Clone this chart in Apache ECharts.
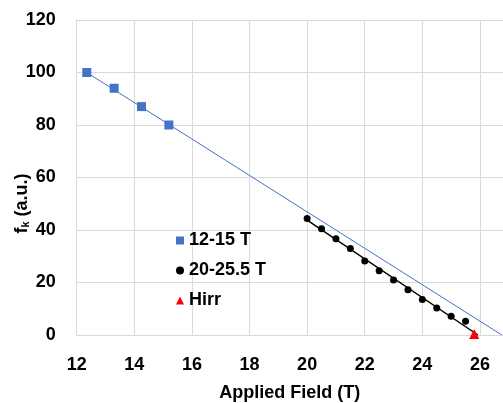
<!DOCTYPE html>
<html>
<head>
<meta charset="utf-8">
<title>fk vs applied field</title>
<script src="https://cdn.jsdelivr.net/npm/echarts@6/dist/echarts.min.js"></script>
<style>
  html, body { margin: 0; padding: 0; background: #fff; }
  #chart { width: 503px; height: 403px; }
</style>
</head>
<body>
<div id="chart"></div>
<script type="text/javascript">
// data
var blueX = [12.35, 13.3, 14.25, 15.2];
var blueY = [100, 94, 87, 80];
var blackX = [20, 20.5, 21, 21.5, 22, 22.5, 23, 23.5, 24, 24.5, 25, 25.5];
var blackY = [44.4, 40.5, 36.7, 33.0, 28.2, 24.5, 21.0, 17.2, 13.5, 10.3, 7.1, 5.2];
var hirrX = [25.8];
var hirrY = [0];
// trend lines (endpoints as seen on the plot)
var blueFitX = [12.35, 26.76];
var blueFitY = [100, 0];
var blackFitX = [20, 25.93];
var blackFitY = [43.8, 0];

var seriesNames = ['12-15 T', '20-25.5 T', 'Hirr'];

function pairs(xs, ys) {
  return xs.map(function (x, i) { return [x, ys[i]]; });
}

var font = "'Liberation Sans', Arial, sans-serif";
var gridColor = '#d9d9d9';

var chart = echarts.init(document.getElementById('chart'));
var option = {
  animation: false,
  grid: { left: 76.7, top: 20, right: 0, bottom: 68, outerBoundsMode: 'none', containLabel: false },
  legend: {
    data: [
      { name: seriesNames[0], icon: 'rect' },
      { name: seriesNames[1], icon: 'circle' },
      { name: seriesNames[2], icon: 'triangle' }
    ],
    orient: 'vertical',
    left: 171,
    top: 226,
    itemWidth: 8,
    itemHeight: 8,
    itemGap: 11,
    selectedMode: false,
    textStyle: { fontFamily: font, fontWeight: 'bold', fontSize: 18, color: '#000', lineHeight: 19 }
  },
  xAxis: {
    type: 'value',
    min: 12,
    max: 26.8,
    interval: 2,
    name: 'Applied Field (T)',
    nameLocation: 'middle',
    nameGap: 49,
    nameMoveOverlap: false,
    nameTextStyle: { fontFamily: font, fontWeight: 'bold', fontSize: 18, color: '#000' },
    axisLine: { show: true, lineStyle: { color: gridColor, width: 1 } },
    axisTick: { show: false },
    axisLabel: { showMaxLabel: false, margin: 21, fontFamily: font, fontWeight: 'bold', fontSize: 18, color: '#000' },
    splitLine: { show: true, lineStyle: { color: gridColor, width: 1 } }
  },
  yAxis: {
    type: 'value',
    min: 0,
    max: 120,
    interval: 20,
    name: 'f{k|k} (a.u.)',
    nameLocation: 'middle',
    nameRotate: 90,
    nameGap: 45,
    nameMoveOverlap: false,
    nameTextStyle: {
      fontFamily: font, fontWeight: 'bold', fontSize: 18, color: '#000',
      padding: [0, 52, 0, 0],
      rich: { k: { fontFamily: font, fontWeight: 'bold', fontSize: 11, color: '#000', padding: [8, 0, 0, 0] } }
    },
    axisLine: { show: true, lineStyle: { color: gridColor, width: 1 } },
    axisTick: { show: false },
    axisLabel: { margin: 21, fontFamily: font, fontWeight: 'bold', fontSize: 18, color: '#000' },
    splitLine: { show: true, lineStyle: { color: gridColor, width: 1 } }
  },
  series: [
    {
      name: 'fit1',
      type: 'line',
      data: pairs(blueFitX, blueFitY),
      showSymbol: false,
      symbol: 'none',
      lineStyle: { color: '#4472C4', width: 1 },
      z: 1
    },
    {
      name: 'fit2',
      type: 'line',
      data: pairs(blackFitX, blackFitY),
      showSymbol: false,
      symbol: 'none',
      lineStyle: { color: '#000', width: 1.5 },
      z: 2
    },
    {
      name: seriesNames[0],
      type: 'scatter',
      data: pairs(blueX, blueY),
      symbol: 'rect',
      symbolSize: 9,
      itemStyle: { color: '#4472C4', opacity: 1 },
      z: 3
    },
    {
      name: seriesNames[1],
      type: 'scatter',
      data: pairs(blackX, blackY),
      symbol: 'circle',
      symbolSize: 7,
      itemStyle: { color: '#000', opacity: 1 },
      z: 3
    },
    {
      name: seriesNames[2],
      type: 'scatter',
      data: pairs(hirrX, hirrY),
      symbol: 'triangle',
      symbolSize: 10,
      symbolOffset: [0, -1],
      clip: false,
      itemStyle: { color: '#ff0000', opacity: 1 },
      z: 4
    }
  ]
};
chart.setOption(option);
</script>
</body>
</html>
